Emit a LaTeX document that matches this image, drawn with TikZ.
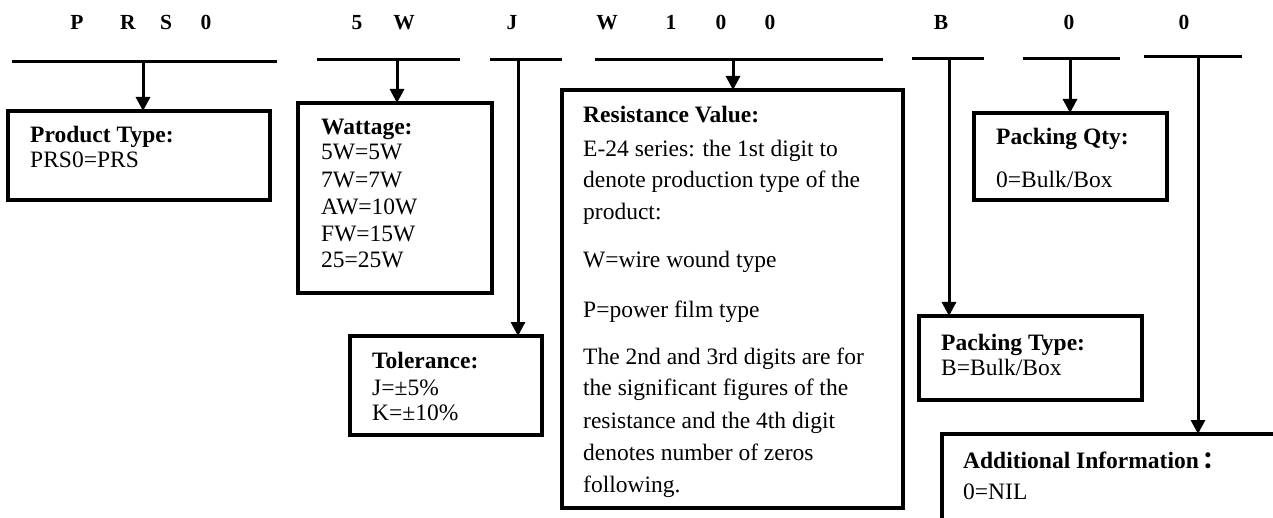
\documentclass[tikz,border=0pt]{standalone}
\usepackage{fontspec}
\setmainfont{Liberation Serif}
\newfontfamily\cjkfont{Noto Sans CJK SC}
\usetikzlibrary{arrows.meta}
\begin{document}
\begin{tikzpicture}[x=1pt,y=-1pt,
  bar/.style={line width=3pt},
  arr/.style={line width=3pt,-{Triangle[length=14pt,width=14pt]}},
  box/.style={draw,line width=3.3pt,inner sep=0pt,outer sep=0pt,anchor=north west},
  hdr/.style={font=\bfseries\fontsize{21.5}{24}\selectfont,anchor=base,inner sep=0pt},
  txt/.style={font=\fontsize{23.5}{28}\selectfont,anchor=base west,inner sep=0pt},
  btxt/.style={txt,font=\bfseries\fontsize{23.5}{28}\selectfont}]
\useasboundingbox (0,0) rectangle (1273,518);
\clip (0,0) rectangle (1273,518);

% header letters
\foreach \c/\x [count=\i] in {P/77,R/128,S/166,0/206,5/357,W/404,J/512,W/607,1/671,0/721,0/770,B/941,0/1069,0/1184}
  \node[hdr] (h\i) at (\x,30) {\c};

% bars
\foreach \a/\b/\y [count=\i] in {12/277/62,317/460/60,490/562/60,595/883/60,912/984/59,1023/1120/59,1144/1242/57}{
  \coordinate (bl\i) at (\a,\y);
  \coordinate (br\i) at (\b,\y);
  \draw[bar] (bl\i) -- (br\i);
}
% arrow sources
\coordinate (s1) at (143,62);
\coordinate (s2) at (397,60);
\coordinate (s3) at (518,60);
\coordinate (s4) at (733,60);
\coordinate (s5) at (949,59);
\coordinate (s6) at (1070,59);
\coordinate (s7) at (1198,57);

% boxes
\node[box,minimum width=262,minimum height=89] (ptype) at (8,111) {};
\node[box,minimum width=194,minimum height=190] (watt) at (298,103) {};
\node[box,minimum width=192,minimum height=99] (tol) at (350,336) {};
\node[box,minimum width=341,minimum height=418] (res) at (562,90) {};
\node[box,minimum width=193,minimum height=87] (qty) at (974,113) {};
\node[box,minimum width=223,minimum height=84] (ptyp) at (919,316) {};
\node[box,minimum width=400,minimum height=200] (add) at (942,434) {};

% arrows
\draw[arr] (s1) -- (s1 |- ptype.north);
\draw[arr] (s2) -- (s2 |- watt.north);
\draw[arr] (s3) -- (s3 |- tol.north);
\draw[arr] (s4) -- (s4 |- res.north);
\draw[arr] (s5) -- (s5 |- ptyp.north);
\draw[arr] (s6) -- (s6 |- qty.north);
\draw[arr] (s7) -- (s7 |- add.north);

% texts
\node[btxt] (pt0) at (30,143) {Product Type:};
\node[txt] (pt1) at (30,168) {PRS0=PRS};

\node[btxt] (w0) at (321,135) {Wattage:};
\foreach \t/\y [count=\i] in {5W=5W/160,7W=7W/188,AW=10W/215,FW=15W/242,25=25W/268}
  \node[txt] (w\i) at (321,\y) {\t};

\node[btxt] (t0) at (372,368) {Tolerance:};
\node[txt] (t1) at (372,395) {J=±5\%};
\node[txt] (t2) at (372,420) {K=±10\%};

\node[btxt] (r0) at (583,123) {Resistance Value:};
\foreach \t/\y [count=\i] in {{E-24 series: the 1st digit to}/157,{denote production type of the}/188,{product:}/220,{W=wire wound type}/268,{P=power film type}/317,{The 2nd and 3rd digits are for}/364,{the significant figures of the}/395,{resistance and the 4th digit}/428,{denotes number of zeros}/460,{following.}/492}
  \node[txt] (r\i) at (583,\y) {\t};

\node[btxt] (q0) at (996,145) {Packing Qty:};
\node[txt] (q1) at (996,188) {0=Bulk/Box};

\node[btxt] (y0) at (941,350) {Packing Type:};
\node[txt] (y1) at (941,375) {B=Bulk/Box};

\node[btxt] (a0) at (963,468) {Additional Information\,{\cjkfont ：}};
\node[txt] (a1) at (963,499) {0=NIL};
\end{tikzpicture}
\end{document}
